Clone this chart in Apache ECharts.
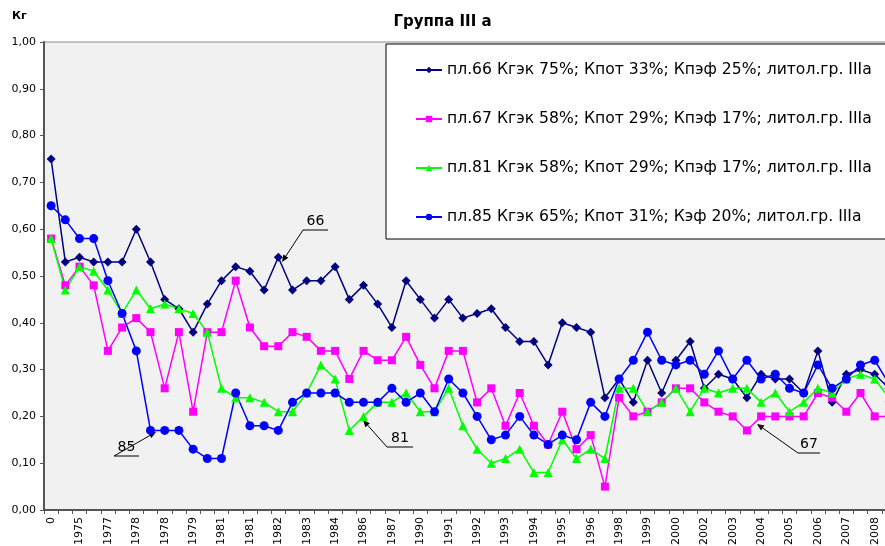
<!DOCTYPE html>
<html>
<head>
<meta charset="utf-8">
<script src="https://cdn.jsdelivr.net/npm/echarts@6/dist/echarts.min.js"></script>
<style>
  html, body { margin: 0; padding: 0; background: #fff; }
  #chart { width: 885px; height: 546px; }
</style>
</head>
<body>
<div id="chart"></div>
<script>
// подписи под осью X (каждая вторая категория)
const tickLabels = ['0', '1975', '1977', '1978', '1978', '1979', '1981', '1981', '1982', '1983',
    '1984', '1986', '1987', '1990', '1991', '1992', '1993', '1994', '1995', '1996',
    '1998', '1999', '2000', '2002', '2003', '2004', '2005', '2006', '2007', '2008'];

const pl66 = [0.75, 0.53, 0.54, 0.53, 0.53, 0.53, 0.60, 0.53, 0.45, 0.43,
    0.38, 0.44, 0.49, 0.52, 0.51, 0.47, 0.54, 0.47, 0.49, 0.49,
    0.52, 0.45, 0.48, 0.44, 0.39, 0.49, 0.45, 0.41, 0.45, 0.41,
    0.42, 0.43, 0.39, 0.36, 0.36, 0.31, 0.40, 0.39, 0.38, 0.24,
    0.28, 0.23, 0.32, 0.25, 0.32, 0.36, 0.26, 0.29, 0.28, 0.24,
    0.29, 0.28, 0.28, 0.25, 0.34, 0.23, 0.29, 0.30, 0.29, 0.26];

const pl67 = [0.58, 0.48, 0.52, 0.48, 0.34, 0.39, 0.41, 0.38, 0.26, 0.38,
    0.21, 0.38, 0.38, 0.49, 0.39, 0.35, 0.35, 0.38, 0.37, 0.34,
    0.34, 0.28, 0.34, 0.32, 0.32, 0.37, 0.31, 0.26, 0.34, 0.34,
    0.23, 0.26, 0.18, 0.25, 0.18, 0.14, 0.21, 0.13, 0.16, 0.05,
    0.24, 0.20, 0.21, 0.23, 0.26, 0.26, 0.23, 0.21, 0.20, 0.17,
    0.20, 0.20, 0.20, 0.20, 0.25, 0.24, 0.21, 0.25, 0.20, 0.20];

const pl81 = [0.58, 0.47, 0.52, 0.51, 0.47, 0.42, 0.47, 0.43, 0.44, 0.43,
    0.42, 0.38, 0.26, 0.24, 0.24, 0.23, 0.21, 0.21, 0.25, 0.31,
    0.28, 0.17, 0.20, 0.23, 0.23, 0.25, 0.21, 0.21, 0.26, 0.18,
    0.13, 0.10, 0.11, 0.13, 0.08, 0.08, 0.15, 0.11, 0.13, 0.11,
    0.26, 0.26, 0.21, 0.23, 0.26, 0.21, 0.26, 0.25, 0.26, 0.26,
    0.23, 0.25, 0.21, 0.23, 0.26, 0.25, 0.28, 0.29, 0.28, 0.24];

const pl85 = [0.65, 0.62, 0.58, 0.58, 0.49, 0.42, 0.34, 0.17, 0.17, 0.17,
    0.13, 0.11, 0.11, 0.25, 0.18, 0.18, 0.17, 0.23, 0.25, 0.25,
    0.25, 0.23, 0.23, 0.23, 0.26, 0.23, 0.25, 0.21, 0.28, 0.25,
    0.20, 0.15, 0.16, 0.20, 0.16, 0.14, 0.16, 0.15, 0.23, 0.20,
    0.28, 0.32, 0.38, 0.32, 0.31, 0.32, 0.29, 0.34, 0.28, 0.32,
    0.28, 0.29, 0.26, 0.25, 0.31, 0.26, 0.28, 0.31, 0.32, 0.27];

const seriesNames = [
    'пл.66 Кгэк 75%; Кпот 33%; Кпэф 25%; литол.гр. IIIa',
    'пл.67 Кгэк 58%; Кпот 29%; Кпэф 17%; литол.гр. IIIa',
    'пл.81 Кгэк 58%; Кпот 29%; Кпэф 17%; литол.гр. IIIa',
    'пл.85 Кгэк 65%; Кпот 31%; Кэф 20%; литол.гр. IIIa'
];

// категории: подписана каждая вторая
let categories = [];
pl66.forEach((v, i) => {
    categories.push(i % 2 === 0 ? tickLabels[i / 2] : '');
});

const font = '"DejaVu Sans", Arial, sans-serif';

let mkSeries = (name, data, color, symbol, size) => {
    return {
        name: name,
        type: 'line',
        data: data,
        symbol: symbol,
        symbolSize: size,
        showSymbol: true,
        animation: false,
        lineStyle: { color: color, width: 1.5 },
        itemStyle: { color: color },
        emphasis: { disabled: true }
    }
}

// стрелка-выноска: линия под номером и наклонная линия к точке
let callout = (label, ux1, ux2, uy, tx, ty) => {
    let ang = Math.atan2(ty - uy, tx - ux1);
    let len = 7, w = 3;
    let bx = tx - len * Math.cos(ang), by = ty - len * Math.sin(ang);
    let nx = -Math.sin(ang) * w, ny = Math.cos(ang) * w;
    return [
        {
            type: 'text', x: (ux1 + ux2) / 2, y: uy - 2,
            style: { text: label, font: '14px ' + font, fill: '#000', align: 'center', verticalAlign: 'bottom' }
        },
        { type: 'line', shape: { x1: ux1, y1: uy, x2: ux2, y2: uy }, style: { stroke: '#000', lineWidth: 1 } },
        { type: 'line', shape: { x1: ux1, y1: uy, x2: bx, y2: by }, style: { stroke: '#000', lineWidth: 1 } },
        {
            type: 'polygon',
            shape: { points: [[tx, ty], [bx + nx, by + ny], [bx - nx, by - ny]] },
            style: { fill: '#000' }
        }
    ]
}

var dom = document.getElementById('chart');
var chart = echarts.init(dom, null, { renderer: 'canvas' });

var option = {
    animation: false,
    backgroundColor: '#fff',
    textStyle: { fontFamily: font },
    title: {
        text: 'Группа III а',
        left: 'center',
        top: 10,
        textStyle: { fontSize: 15, fontWeight: 'bold', color: '#000', fontFamily: font }
    },
    legend: {
        orient: 'vertical',
        left: 386,
        top: 44,
        padding: [17, 60, 13, 29],
        itemGap: 31,
        itemWidth: 26,
        itemHeight: 8,
        backgroundColor: '#fff',
        borderColor: '#000',
        borderWidth: 1,
        borderRadius: 0,
        selectedMode: false,
        textStyle: { fontSize: 15.6, lineHeight: 18, color: '#000', fontFamily: font }
    },
    grid: {
        left: 44,
        top: 42,
        width: 852,
        height: 468,
        outerBoundsMode: 'none',
        show: true,
        backgroundColor: '#f1f1f1',
        borderColor: '#8c8c8c',
        borderWidth: 1
    },
    xAxis: {
        type: 'category',
        data: categories,
        boundaryGap: true,
        axisLine: { lineStyle: { color: '#555', width: 2 } },
        axisTick: { show: true, interval: 0, length: 4, lineStyle: { color: '#555', width: 1 } },
        axisLabel: {
            interval: 1,
            rotate: 90,
            margin: 7,
            fontSize: 11,
            color: '#000',
            fontFamily: font
        },
        splitLine: { show: false }
    },
    yAxis: {
        type: 'value',
        min: 0,
        max: 1,
        interval: 0.1,
        axisLine: { show: true, lineStyle: { color: '#555', width: 2 } },
        axisTick: { show: true, length: 4, lineStyle: { color: '#555' } },
        axisLabel: {
            margin: 8,
            fontSize: 11,
            color: '#000',
            fontFamily: font,
            formatter: v => v.toFixed(2).replace('.', ',')
        },
        splitLine: { show: false }
    },
    series: [
        mkSeries(seriesNames[0], pl66, '#000080', 'diamond', 9),
        mkSeries(seriesNames[1], pl67, '#ff00ff', 'rect', 8),
        mkSeries(seriesNames[2], pl81, '#00ff00', 'triangle', 9),
        mkSeries(seriesNames[3], pl85, '#0000ff', 'circle', 9)
    ],
    graphic: [
        {
            type: 'text', x: 12, y: 11,
            style: { text: 'Кг', font: 'bold 11px ' + font, fill: '#000' }
        },
        ...callout('66', 303, 328, 230, 282, 262),
        ...callout('85', 114, 139, 456, 156, 432),
        ...callout('81', 387, 413, 447, 363, 420),
        ...callout('67', 798, 820, 453, 757, 424)
    ]
};

chart.setOption(option);
</script>
</body>
</html>
